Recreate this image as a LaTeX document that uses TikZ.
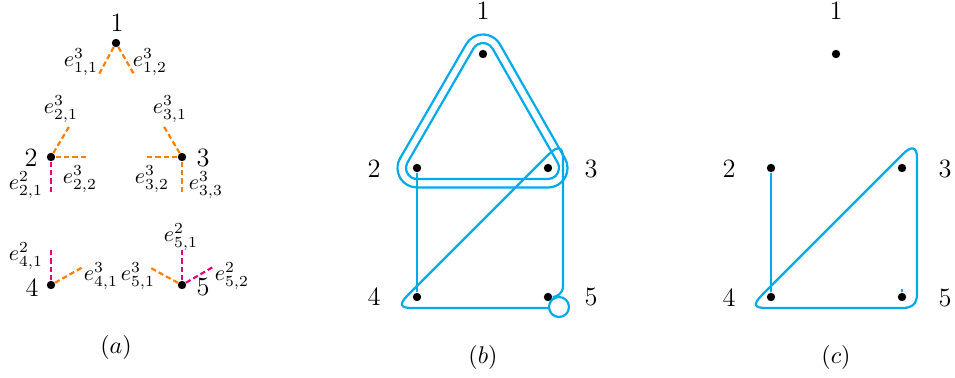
\documentclass[tikz,border=0pt]{standalone}
\usetikzlibrary{calc}
\definecolor{hblue}{RGB}{0,170,235}
\definecolor{horange}{RGB}{255,128,0}
\definecolor{hmag}{RGB}{230,0,126}
\tikzset{
  dot/.style={circle,fill=black,inner sep=0pt,minimum size=3.8pt},
  vlab/.style={font=\large,inner sep=0pt},
  elab/.style={inner sep=0pt},
  captxt/.style={inner sep=0pt,font=\fontsize{11}{13}\selectfont},
  hedge/.style={draw=hblue,line width=1pt},
  oedge/.style={draw=horange,line width=1pt,dash pattern=on 2.4pt off 1.4pt},
  medge/.style={draw=hmag,line width=1pt,dash pattern=on 2.4pt off 1.4pt}
}
\begin{document}
\begin{tikzpicture}[x=0.4545pt,y=-0.4545pt]
\useasboundingbox (0,0) rectangle (955,377);

% ---------------- panel (a)
\node[dot] (a1) at (116,43) {};
\node[dot] (a2) at (51,157) {};
\node[dot] (a3) at (182,157) {};
\node[dot] (a4) at (51,285) {};
\node[dot] (a5) at (182,285) {};
\node[vlab] (la1) at (117,23) {1};
\node[vlab] (la2) at (31,158) {2};
\node[vlab] (la3) at (203,158) {3};
\node[vlab] (la4) at (32,288) {4};
\node[vlab] (la5) at (203,287) {5};

\coordinate (x11) at (98,76);
\coordinate (x12) at (135,76);
\coordinate (x21) at (70,125);
\coordinate (x22) at (88,157);
\coordinate (y21) at (51,194);
\coordinate (x31) at (163,125);
\coordinate (x32) at (144,157);
\coordinate (x33) at (182,194);
\coordinate (y41) at (51,248);
\coordinate (x41) at (83,267);
\coordinate (y51) at (182,248);
\coordinate (x51) at (149,267);
\coordinate (y52) at (213,267);

\draw[oedge] (a1) -- (x11);
\draw[oedge] (a1) -- (x12);
\draw[oedge] (a2) -- (x21);
\draw[oedge] (a2) -- (x22);
\draw[medge] (a2) -- (y21);
\draw[oedge] (a3) -- (x31);
\draw[oedge] (a3) -- (x32);
\draw[oedge] (a3) -- (x33);
\draw[medge] (a4) -- (y41);
\draw[oedge] (a4) -- (x41);
\draw[medge] (a5) -- (y51);
\draw[oedge] (a5) -- (x51);
\draw[medge] (a5) -- (y52);

\node[elab] (t11) at (81,62) {$e^3_{1,1}$};
\node[elab] (t12) at (150,62) {$e^3_{1,2}$};
\node[elab] (t21) at (61,109) {$e^3_{2,1}$};
\node[elab] (t22) at (80,179) {$e^3_{2,2}$};
\node[elab] (s21) at (26,185) {$e^2_{2,1}$};
\node[elab] (t31) at (170,109) {$e^3_{3,1}$};
\node[elab] (t32) at (152,179) {$e^3_{3,2}$};
\node[elab] (t33) at (206,185) {$e^3_{3,3}$};
\node[elab] (s41) at (26,256) {$e^2_{4,1}$};
\node[elab] (t41) at (101,276) {$e^3_{4,1}$};
\node[elab] (s51) at (181,237) {$e^2_{5,1}$};
\node[elab] (t51) at (138,276) {$e^3_{5,1}$};
\node[elab] (s52) at (232,276) {$e^2_{5,2}$};

\node[captxt] (capa) at (116,347) {$(a)$};

% ---------------- panel (b)
\node[dot] (b1) at (483,54) {};
\node[dot] (b2) at (417,168) {};
\node[dot] (b3) at (548,168) {};
\node[dot] (b4) at (417,297) {};
\node[dot] (b5) at (548,297) {};
\node[vlab] (lb1) at (483,11) {1};
\node[vlab] (lb2) at (374,169) {2};
\node[vlab] (lb3) at (591,169) {3};
\node[vlab] (lb4) at (374,297) {4};
\node[vlab] (lb5) at (591,297) {5};

\foreach \d in {11,19.5}{
  \draw[hedge] ($(b1)+(210.07:\d)$) -- ($(b2)+(210.07:\d)$)
     arc[start angle=210.07,end angle=90,radius=\d]
     -- ($(b3)+(90:\d)$)
     arc[start angle=90,end angle=-29.69,radius=\d]
     -- ($(b1)+(-29.69:\d)$)
     arc[start angle=330.31,end angle=210.07,radius=\d] -- cycle;
}
\draw[hedge] (b2) -- (b4);
\draw[hedge] (b5) .. controls (556,297) and (563,294) .. (563,286)
   -- (563,158) .. controls (563,146) and (557,146) .. (549,154)
   -- (408,295) .. controls (398,305) and (401,308) .. (412,308)
   -- (549,308);
\draw[hedge] (559,307) circle[radius=10];

\node[captxt] (capb) at (483,357) {$(b)$};

% ---------------- panel (c)
\node[dot] (c1) at (836,54) {};
\node[dot] (c2) at (771,168) {};
\node[dot] (c3) at (902,168) {};
\node[dot] (c4) at (771,297) {};
\node[dot] (c5) at (902,297) {};
\node[vlab] (lc1) at (836,11) {1};
\node[vlab] (lc2) at (729,169) {2};
\node[vlab] (lc3) at (945,169) {3};
\node[vlab] (lc4) at (729,298) {4};
\node[vlab] (lc5) at (945,298) {5};

\draw[hedge] (c2) -- (c4);
\draw[hedge] (c5) -- ++(0,-8);
\draw[hedge] (903,154) .. controls (911,146) and (917,146) .. (917,158)
   -- (917,294) .. controls (917,304) and (912,308) .. (902,308)
   -- (766,308) .. controls (755,308) and (752,305) .. (762,295) -- cycle;

\node[captxt] (capc) at (836,357) {$(c)$};
\end{tikzpicture}
\end{document}
